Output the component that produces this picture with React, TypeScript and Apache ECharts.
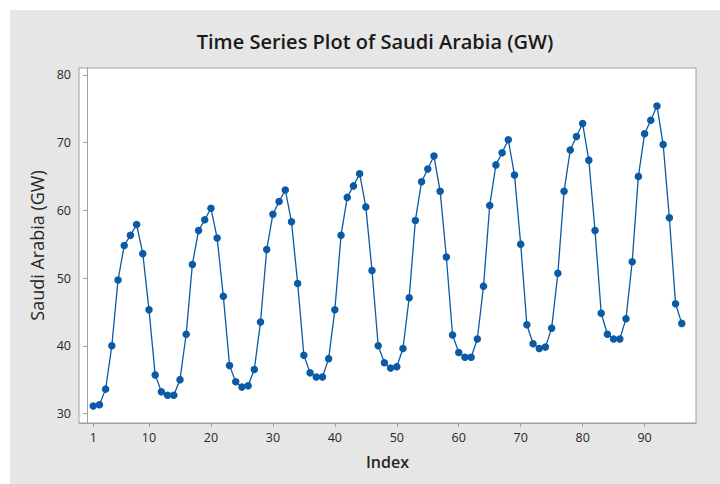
import React, { useEffect, useRef } from "react";
import * as echarts from "echarts";

// Load readings, indexed 1..96
const loadGW: number[] = [
  31.1, 31.3, 33.6, 40.0, 49.7, 54.8, 56.3, 57.9, 53.6, 45.3,
  35.7, 33.2, 32.7, 32.7, 35.0, 41.7, 52.0, 57.0, 58.6, 60.3,
  55.9, 47.3, 37.1, 34.7, 33.9, 34.1, 36.5, 43.5, 54.2, 59.4,
  61.3, 63.0, 58.3, 49.2, 38.6, 36.0, 35.4, 35.4, 38.1, 45.3,
  56.3, 61.9, 63.6, 65.4, 60.5, 51.1, 40.0, 37.5, 36.7, 36.9,
  39.6, 47.1, 58.5, 64.2, 66.1, 68.0, 62.8, 53.1, 41.6, 39.0,
  38.3, 38.3, 41.0, 48.8, 60.7, 66.7, 68.5, 70.4, 65.2, 55.0,
  43.1, 40.3, 39.6, 39.8, 42.6, 50.7, 62.8, 68.9, 70.9, 72.8,
  67.4, 57.0, 44.8, 41.7, 41.0, 41.0, 44.0, 52.4, 65.0, 71.3,
  73.3, 75.4, 69.7, 58.9, 46.2, 43.3,
];

const xTicks: number[] = [1, 10, 20, 30, 40, 50, 60, 70, 80, 90];
const yTicks: number[] = [30, 40, 50, 60, 70, 80];

const FONT = "'Open Sans', 'Noto Sans', sans-serif";

export default function App() {
  const ref = useRef<HTMLDivElement>(null);

  useEffect(() => {
    if (!ref.current) return;
    const chart = echarts.init(ref.current, undefined, { renderer: "svg" });
    const points = loadGW.map((v, i) => [i + 1, v]);

    chart.setOption({
      animation: false,
      backgroundColor: "#ffffff",
      graphic: [
        {
          type: "rect",
          left: 10,
          top: 10,
          shape: { width: 710, height: 474 },
          style: { fill: "#e6e6e6" },
          z: -10,
          silent: true,
        },
      ],
      title: {
        text: "Time Series Plot of Saudi Arabia (GW)",
        left: 370,
        top: 26,
        textAlign: "center",
        textStyle: {
          fontFamily: FONT,
          fontSize: 20,
          fontWeight: 600,
          color: "#1a1a1a",
        },
      },
      grid: {
        left: 79,
        top: 68,
        right: 24,
        bottom: 61,
        show: true,
        backgroundColor: "#ffffff",
        borderColor: "#a0a0a0",
        borderWidth: 1,
      },
      xAxis: {
        type: "value",
        min: -1.3,
        max: 98.3,
        name: "Index",
        nameLocation: "middle",
        nameGap: 31,
        nameTextStyle: {
          fontFamily: FONT,
          fontSize: 16,
          fontWeight: 600,
          color: "#262626",
        },
        splitLine: { show: false },
        axisLine: { show: true, lineStyle: { color: "#a0a0a0" } },
        axisTick: {
          show: true,
          length: 4,
          customValues: xTicks,
          lineStyle: { color: "#a0a0a0" },
        },
        axisLabel: {
          customValues: xTicks,
          margin: 8,
          fontFamily: FONT,
          fontSize: 12.5,
          color: "#262626",
        },
      },
      yAxis: {
        type: "value",
        min: 28.6,
        max: 81,
        name: "Saudi Arabia (GW)",
        nameLocation: "middle",
        nameGap: 33,
        nameTextStyle: {
          fontFamily: FONT,
          fontSize: 18,
          fontWeight: 500,
          color: "#262626",
        },
        splitLine: { show: false },
        axisLine: { show: true, lineStyle: { color: "#a0a0a0" } },
        axisTick: {
          show: true,
          length: 4,
          customValues: yTicks,
          lineStyle: { color: "#a0a0a0" },
        },
        axisLabel: {
          customValues: yTicks,
          margin: 8,
          fontFamily: FONT,
          fontSize: 12.5,
          color: "#262626",
        },
      },
      series: [
        {
          type: "line",
          data: points,
          symbol: "circle",
          symbolSize: 7.5,
          showAllSymbol: true,
          lineStyle: { color: "#0a5aa5", width: 1.3 },
          itemStyle: { color: "#0a5aa5" },
        },
      ],
    });

    return () => chart.dispose();
  }, []);

  return (
    <div
      ref={ref}
      style={{ position: "fixed", left: 0, top: 0, width: 720, height: 484 }}
    />
  );
}
